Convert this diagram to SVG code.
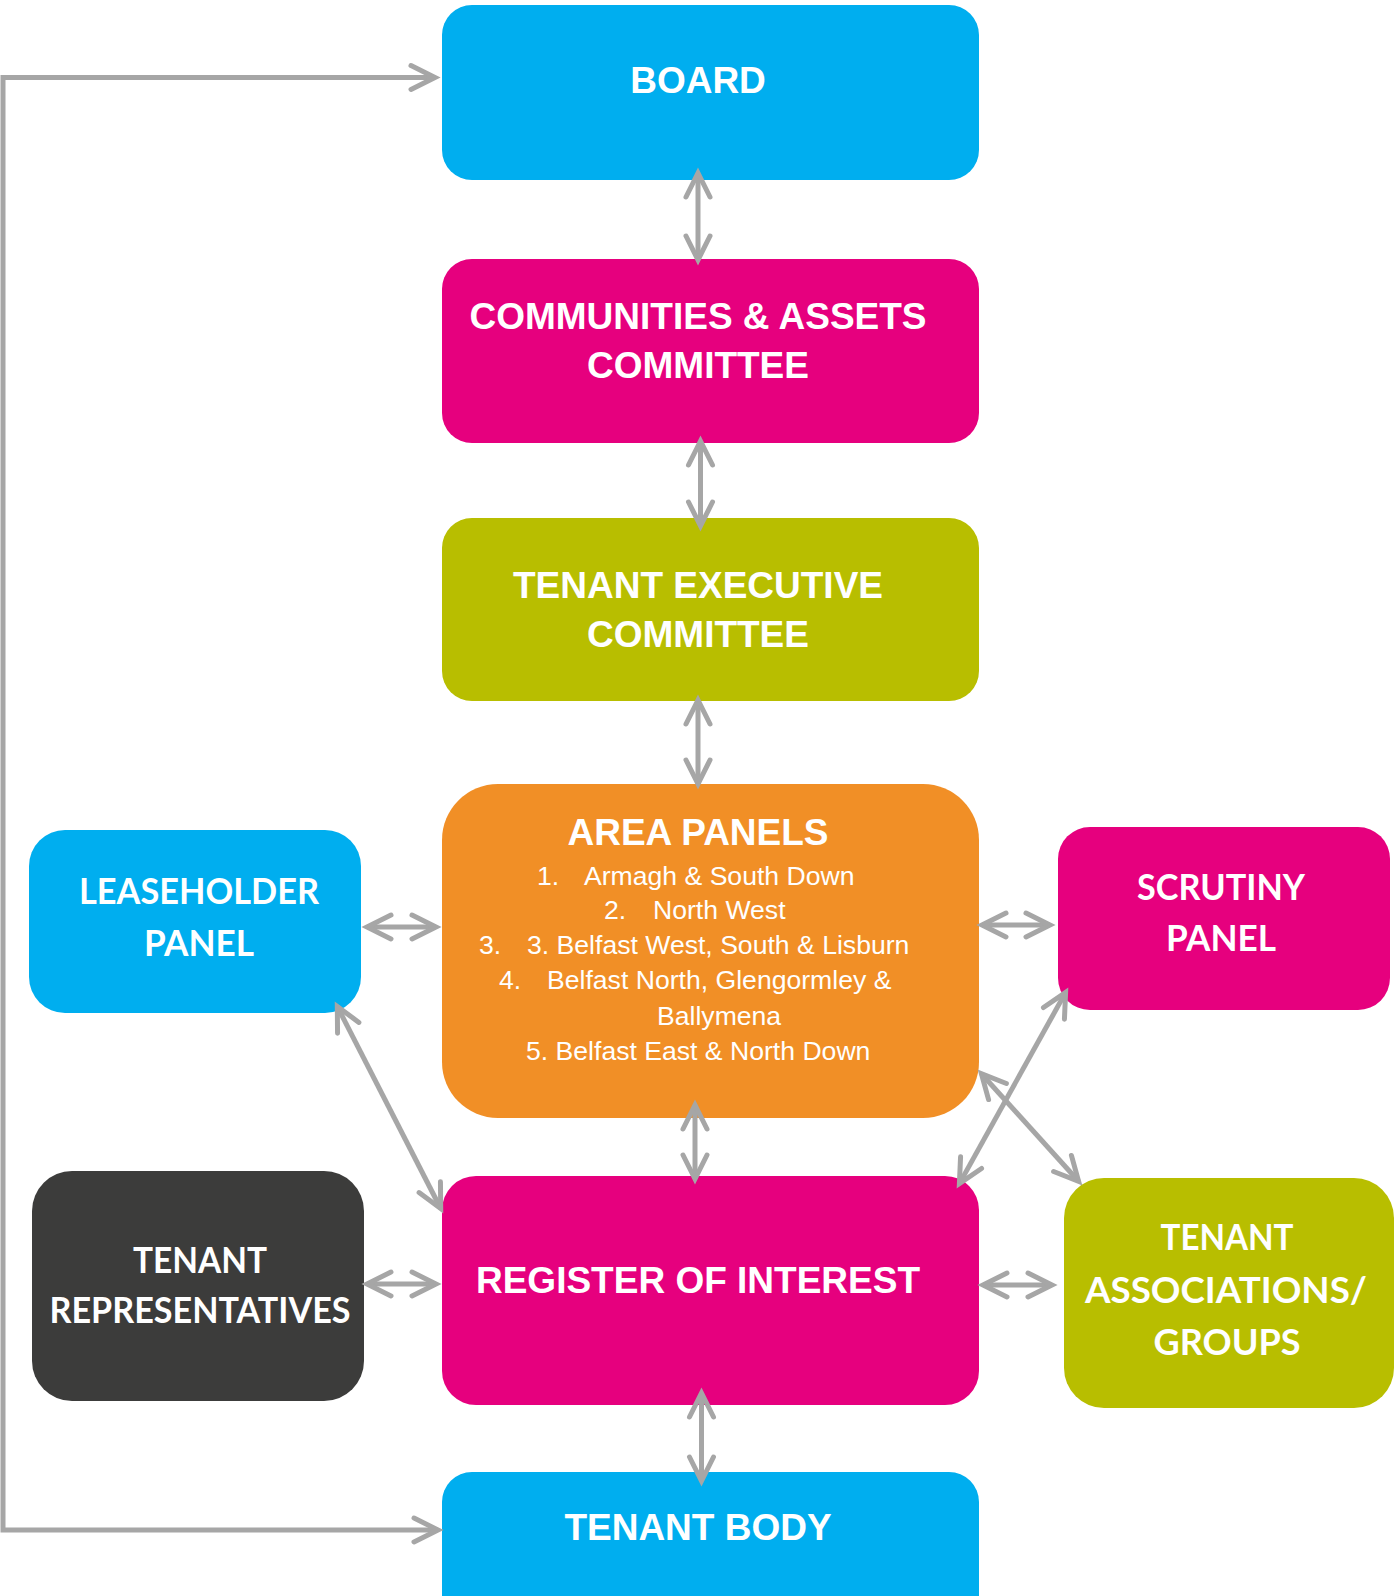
<svg xmlns="http://www.w3.org/2000/svg" width="1394" height="1596" viewBox="0 0 1394 1596">
  <style>
    .blue { fill: #00AEEF; }
    .pink { fill: #E6007E; }
    .olive { fill: #B8BE00; }
    .orange { fill: #F18F26; }
    .dark { fill: #3C3C3B; }
    .title { font-family: "Liberation Sans", Arial, sans-serif; font-weight: bold; font-size: 37px; fill: #FFFFFF; text-anchor: middle; }
    .geo { font-family: Lato, "Liberation Sans", sans-serif; font-weight: bold; font-size: 37px; fill: #FFFFFF; text-anchor: middle; }
    .item { font-family: "Liberation Sans", Arial, sans-serif; font-size: 26.6px; fill: #FFFFFF; }
    .link { fill: none; stroke: #A6A6A6; stroke-width: 5; marker-start: url(#head); marker-end: url(#head); }
  </style>
  <defs>
    <!-- open chevron head; the mitred point sits ~5px ahead of the path end -->
    <marker id="head" markerUnits="userSpaceOnUse" orient="auto-start-reverse" refX="0" refY="0" markerWidth="40" markerHeight="40" overflow="visible">
      <path d="M-24,-12 L0,0 L-24,12" fill="none" stroke="#A6A6A6" stroke-width="5" stroke-linecap="round" stroke-linejoin="miter"/>
    </marker>
  </defs>

  <rect width="1394" height="1596" fill="#FFFFFF"/>

  <g id="board">
    <rect class="blue" x="442" y="5" width="537" height="175" rx="30"/>
    <text class="title" x="698" y="93">BOARD</text>
  </g>

  <g id="communities-assets-committee">
    <rect class="pink" x="442" y="259" width="537" height="184" rx="30"/>
    <text class="title" x="698" y="329">COMMUNITIES &amp; ASSETS</text>
    <text class="title" x="698" y="378">COMMITTEE</text>
  </g>

  <g id="tenant-executive-committee">
    <rect class="olive" x="442" y="518" width="537" height="183" rx="30"/>
    <text class="title" x="698" y="598">TENANT EXECUTIVE</text>
    <text class="title" x="698" y="647">COMMITTEE</text>
  </g>

  <g id="area-panels">
    <rect class="orange" x="442" y="784" width="537" height="334" rx="56"/>
    <text class="title" x="698" y="845">AREA PANELS</text>
    <text class="item" x="537" y="885">1.</text>
    <text class="item" x="584" y="885">Armagh &amp; South Down</text>
    <text class="item" x="604" y="919">2.</text>
    <text class="item" x="653" y="919">North West</text>
    <text class="item" x="479" y="954">3.</text>
    <text class="item" x="527" y="954">3. Belfast West, South &amp; Lisburn</text>
    <text class="item" x="499" y="989">4.</text>
    <text class="item" x="547" y="989">Belfast North, Glengormley &amp;</text>
    <text class="item" x="657" y="1025">Ballymena</text>
    <text class="item" x="526" y="1060">5. Belfast East &amp; North Down</text>
  </g>

  <g id="leaseholder-panel">
    <rect class="blue" x="29" y="830" width="332" height="183" rx="36"/>
    <text class="geo" x="199" y="904" textLength="240" lengthAdjust="spacingAndGlyphs">LEASEHOLDER</text>
    <text class="geo" x="199" y="956" textLength="110" lengthAdjust="spacingAndGlyphs">PANEL</text>
  </g>

  <g id="scrutiny-panel">
    <rect class="pink" x="1058" y="827" width="332" height="183" rx="32"/>
    <text class="geo" x="1221" y="900" textLength="168" lengthAdjust="spacingAndGlyphs">SCRUTINY</text>
    <text class="geo" x="1221" y="951" textLength="110" lengthAdjust="spacingAndGlyphs">PANEL</text>
  </g>

  <g id="register-of-interest">
    <rect class="pink" x="442" y="1176" width="537" height="229" rx="34"/>
    <text class="title" x="698" y="1293">REGISTER OF INTEREST</text>
  </g>

  <g id="tenant-representatives">
    <rect class="dark" x="32" y="1171" width="332" height="230" rx="40"/>
    <text class="geo" x="200" y="1273" textLength="134" lengthAdjust="spacingAndGlyphs">TENANT</text>
    <text class="geo" x="200" y="1323" textLength="301" lengthAdjust="spacingAndGlyphs">REPRESENTATIVES</text>
  </g>

  <g id="tenant-associations-groups">
    <rect class="olive" x="1064" y="1178" width="330" height="230" rx="40"/>
    <text class="geo" x="1227" y="1250" textLength="133" lengthAdjust="spacingAndGlyphs">TENANT</text>
    <text class="geo" x="1226" y="1303" textLength="282" lengthAdjust="spacingAndGlyphs">ASSOCIATIONS/</text>
    <text class="geo" x="1227" y="1355" textLength="147" lengthAdjust="spacingAndGlyphs">GROUPS</text>
  </g>

  <g id="tenant-body">
    <rect class="blue" x="442" y="1472" width="537" height="160" rx="30"/>
    <text class="title" x="698" y="1540">TENANT BODY</text>
  </g>

  <g id="connectors">
    <path class="link" d="M435,77.5 L3,77.5 L3,1530 L438,1530"/>
    <path class="link" d="M698,173 L698,260"/>
    <path class="link" d="M700.5,441 L700.5,526"/>
    <path class="link" d="M698,700 L698,784"/>
    <path class="link" d="M695,1105 L695,1179"/>
    <path class="link" d="M701.5,1393 L701.5,1481"/>
    <path class="link" d="M367,927 L436,927"/>
    <path class="link" d="M982,925 L1050,925"/>
    <path class="link" d="M367,1284 L436,1284"/>
    <path class="link" d="M983,1285 L1052,1285"/>
    <path class="link" d="M337.3,1006.5 L440.7,1208.5"/>
    <path class="link" d="M959.4,1183.6 L1065.6,992.4"/>
    <path class="link" d="M981.4,1073.7 L1078.6,1181.3"/>
  </g>
</svg>
